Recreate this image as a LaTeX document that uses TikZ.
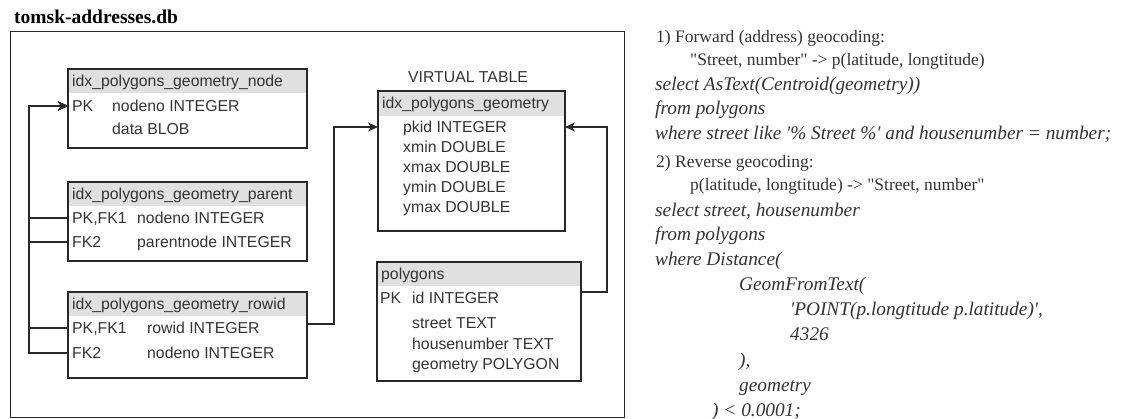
\documentclass[tikz,border=0pt]{standalone}
\usepackage{fontspec}
\setmainfont{Liberation Serif}
\newfontfamily\rtf{Liberation Serif}[Ligatures=TeXOff]
\newfontfamily\arialf{Liberation Sans}
\usetikzlibrary{arrows.meta}
\definecolor{hdr}{RGB}{224,224,224}
\definecolor{ink}{RGB}{40,40,40}
\definecolor{tink}{RGB}{51,51,51}
\begin{document}
\begin{tikzpicture}[x=1pt,y=-1pt,
  box/.style={draw=ink, line width=1.1pt, inner sep=0pt, outer sep=0pt, anchor=north west},
  hdrbox/.style={fill=hdr, inner sep=0pt, outer sep=0pt, anchor=north west, minimum height=24pt},
  sf/.style={anchor=base west, inner sep=0pt, text=tink, font=\arialf\fontsize{15.8}{18}\selectfont},
  rt/.style={anchor=base west, inner sep=0pt, text=tink, font=\rtf\fontsize{17.5}{20}\selectfont},
  ri/.style={anchor=base west, inner sep=0pt, text=tink, font=\rtf\itshape\fontsize{19.3}{22}\selectfont},
  conn/.style={draw=ink, line width=1.1pt},
  arr/.style={conn, -{Stealth[length=10pt,width=9pt,inset=3pt]}}
]
\useasboundingbox (0,0) rectangle (1129,419);

% database container
\node[box, line width=0.9pt, minimum width=614pt, minimum height=386pt] (dbbox) at (10,31) {};
\node[anchor=base west, inner sep=0pt, font=\bfseries\fontsize{19.5}{22}\selectfont] (dbtitle) at (14,24) {tomsk-addresses.db};

% idx_polygons_geometry_node
\node[hdrbox, minimum width=239pt] (nodehdr) at (68,69) {};
\node[box, minimum width=239pt, minimum height=79pt] (nodetbl) at (68,69) {};
\node[sf] (nodettl) at (72,87) {idx\_polygons\_geometry\_node};
\node[sf] (nodepk) at (72,112) {PK};
\node[sf] (nodef1) at (112,112) {nodeno INTEGER};
\node[sf] (nodef2) at (112,135) {data BLOB};

% idx_polygons_geometry_parent
\node[hdrbox, minimum width=239pt] (parhdr) at (68,182) {};
\node[box, minimum width=239pt, minimum height=79pt] (partbl) at (68,182) {};
\node[sf] (parttl) at (72,200) {idx\_polygons\_geometry\_parent};
\node[sf] (park1) at (72,224) {PK,FK1};
\node[sf] (parf1) at (137,224) {nodeno INTEGER};
\node[sf] (park2) at (72,248) {FK2};
\node[sf] (parf2) at (137,248) {parentnode INTEGER};

% idx_polygons_geometry_rowid
\node[hdrbox, minimum width=239pt] (rowhdr) at (68,292) {};
\node[box, minimum width=239pt, minimum height=86pt] (rowtbl) at (68,292) {};
\node[sf] (rowttl) at (72,310) {idx\_polygons\_geometry\_rowid};
\node[sf] (rowk1) at (72,334) {PK,FK1};
\node[sf] (rowf1) at (147,334) {rowid INTEGER};
\node[sf] (rowk2) at (72,359) {FK2};
\node[sf] (rowf2) at (147,359) {nodeno INTEGER};

% virtual table idx_polygons_geometry
\node[sf, anchor=base] (vlabel) at (468,83) {VIRTUAL TABLE};
\node[hdrbox, minimum width=187pt, minimum height=25pt] (virthdr) at (378,91) {};
\node[box, minimum width=187pt, minimum height=140pt] (virt) at (378,91) {};
\node[sf] (virtttl) at (382,109) {idx\_polygons\_geometry};
\node[sf] (vf1) at (403,133) {pkid INTEGER};
\node[sf] (vf2) at (403,153) {xmin DOUBLE};
\node[sf] (vf3) at (403,173) {xmax DOUBLE};
\node[sf] (vf4) at (403,193) {ymin DOUBLE};
\node[sf] (vf5) at (403,213) {ymax DOUBLE};

% polygons
\node[hdrbox, minimum width=204pt] (polyhdr) at (377,262) {};
\node[box, minimum width=204pt, minimum height=119pt] (poly) at (377,262) {};
\node[sf] (polyttl) at (381,280) {polygons};
\node[sf] (polypk) at (380,304) {PK};
\node[sf] (polyf1) at (412,304) {id INTEGER};
\node[sf] (polyf2) at (412,328) {street TEXT};
\node[sf] (polyf3) at (412,349) {housenumber TEXT};
\node[sf] (polyf4) at (412,370) {geometry POLYGON};

% connectors
\coordinate (trunk) at (29,0);
\draw[arr] (rowtbl.west |- 0,353) -- (trunk |- 0,353) |- (nodetbl.west |- 0,106);
\draw[arr] (rowtbl.west |- 0,328) -- (trunk |- 0,328) |- (nodetbl.west |- 0,106);
\draw[arr] (partbl.west |- 0,242) -- (trunk |- 0,242) |- (nodetbl.west |- 0,106);
\draw[arr] (partbl.west |- 0,218) -- (trunk |- 0,218) |- (nodetbl.west |- 0,106);
\draw[arr] (rowtbl.east |- 0,324) -- (334,324) |- (virt.west |- 0,127);
\draw[arr] (poly.east |- 0,292) -- (607,292) |- (virt.east |- 0,127);

% right-hand text
\node[rt] (t1) at (656,42.5) {1) Forward (address) geocoding:};
\node[rt] (t2) at (690,65.5) {"Street, number" -> p(latitude, longtitude)};
\node[ri] (t3) at (655,91) {select AsText(Centroid(geometry))};
\node[ri] (t4) at (655,115) {from polygons};
\node[ri] (t5) at (655,140) {where street like '\% Street \%' and housenumber = number;};
\node[rt] (t6) at (656,167.5) {2) Reverse geocoding:};
\node[rt] (t7) at (690,190.5) {p(latitude, longtitude) -> "Street, number"};
\node[ri] (t8) at (655,217) {select street, housenumber};
\node[ri] (t9) at (655,241) {from polygons};
\node[ri] (t10) at (655,266) {where Distance(};
\node[ri] (t11) at (739,291) {GeomFromText(};
\node[ri] (t12) at (790,316) {'POINT(p.longtitude p.latitude)',};
\node[ri] (t13) at (790,341) {4326};
\node[ri] (t14) at (739,366) {),};
\node[ri] (t15) at (739,391) {geometry};
\node[ri] (t16) at (712,416) {) < 0.0001;};
\end{tikzpicture}
\end{document}
